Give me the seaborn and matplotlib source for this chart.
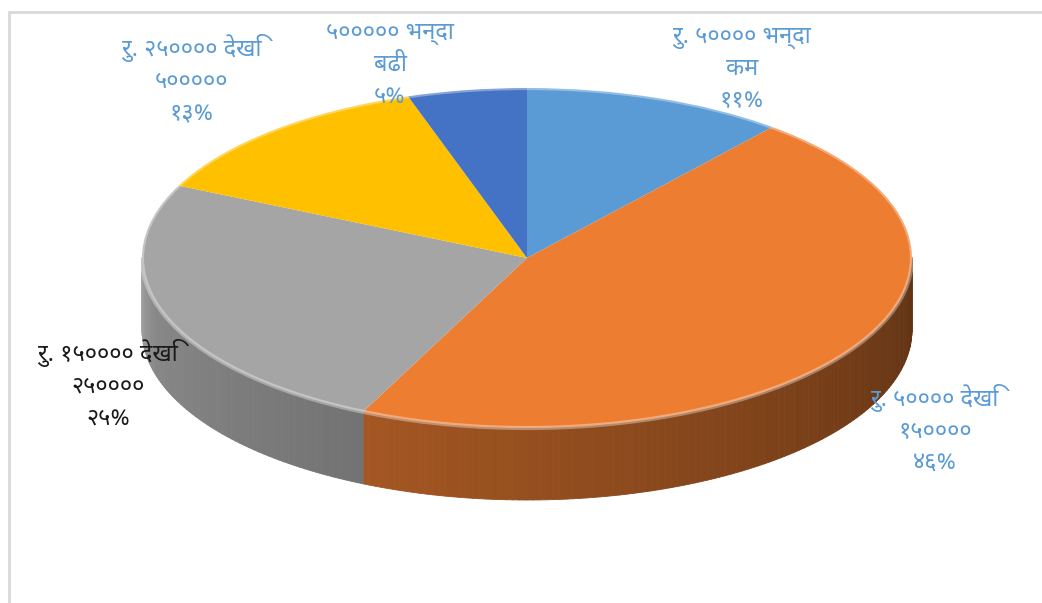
import numpy as np
import matplotlib
matplotlib.use('Agg')
import matplotlib.pyplot as plt
from matplotlib.collections import PolyCollection
from matplotlib.patches import Rectangle, Ellipse
import seaborn as sns

# ------------------------------------------------------------
# data
# ------------------------------------------------------------
labels = ['रु. ५०००० भन्दा\nकम',
          'रु. ५०००० देखि\n१५००००',
          'रु. १५०००० देखि\n२५००००',
          'रु. २५०००० देखि\n५०००००',
          '५००००० भन्दा\nबढी']
pct_text = ['११%', '४६%', '२५%', '१३%', '५%']
values = [11, 46, 25, 13, 5]
colors = ['#5B9BD5', '#ED7D31', '#A5A5A5', '#FFC000', '#4472C4']
label_colors = ['#5B9BD5', '#5B9BD5', '#1a1a1a', '#5B9BD5', '#5B9BD5']

# layout (pixels)
W, H = 1042, 603
CX, CY = 527, 258      # pie centre
RX, RY = 385, 170      # ellipse half axes
DEPTH = 72             # side thickness
label_pos = [(742, 69), (935, 430), (108, 385), (192, 80), (390, 65)]

sns.set_theme(style='white')
plt.rcParams['font.family'] = ['Noto Sans Devanagari', 'Lohit Devanagari', 'Mangal',
                               'Nirmala UI', 'FreeSans', 'DejaVu Sans']

fig = plt.figure(figsize=(W / 100, H / 100), dpi=100)
ax = fig.add_axes([0, 0, 1, 1])

# ------------------------------------------------------------
# side wall (drawn first, the top goes over it)
# ------------------------------------------------------------
depth = DEPTH / RY
fracs = np.array(values) / np.sum(values)
cum = np.concatenate([[0], np.cumsum(fracs)])
polys, pcols = [], []
for i, c in enumerate(colors):
    t0 = 90 - 360 * cum[i]
    t1 = 90 - 360 * cum[i + 1]
    ts = np.linspace(t0, t1, max(int(abs(t1 - t0)), 2) + 1)
    base = np.array(matplotlib.colors.to_rgb(c))
    for a, b in zip(ts[:-1], ts[1:]):
        am = ((a + b) / 2) % 360
        if not (180 <= am <= 360):
            continue
        ra, rb = np.radians(a), np.radians(b)
        p = [(np.cos(ra), np.sin(ra)), (np.cos(rb), np.sin(rb)),
             (np.cos(rb), np.sin(rb) - depth), (np.cos(ra), np.sin(ra) - depth)]
        f = 0.86 - 0.46 * (am - 180) / 180
        if am < 195:
            f += 0.12 * (195 - am) / 15
        polys.append(p)
        pcols.append(np.clip(base * f, 0, 1))
ax.add_collection(PolyCollection(polys, facecolors=pcols, edgecolors=pcols,
                                 linewidths=0.6, zorder=1))

# ------------------------------------------------------------
# top surface
# ------------------------------------------------------------
ax.pie(values, colors=colors, startangle=90, counterclock=False, radius=1,
       center=(0, 0), wedgeprops=dict(linewidth=0), frame=True)
for w in ax.patches:
    w.set_zorder(2)
# rim highlight
ax.add_patch(Ellipse((0, 0), 2, 2, fill=False, edgecolor='white', alpha=0.35,
                     linewidth=3, zorder=3))

ax.set_aspect('auto')
ax.set_xlim(-CX / RX, (W - CX) / RX)
ax.set_ylim((CY - H) / RY, CY / RY)
ax.axis('off')

# ------------------------------------------------------------
# labels
# ------------------------------------------------------------
for lab, pc, col, (px, py) in zip(labels, pct_text, label_colors, label_pos):
    fig.text(px / W, 1 - py / H, lab + '\n' + pc, ha='center', va='center',
             color=col, fontsize=17, linespacing=1.45)

# chart border
fig.add_artist(Rectangle((9 / W, -0.01), 1.02, 1 - 12 / H + 0.01,
                         transform=fig.transFigure, fill=False,
                         edgecolor='#D9D9D9', linewidth=2))

fig.savefig('out.png', dpi=100)
